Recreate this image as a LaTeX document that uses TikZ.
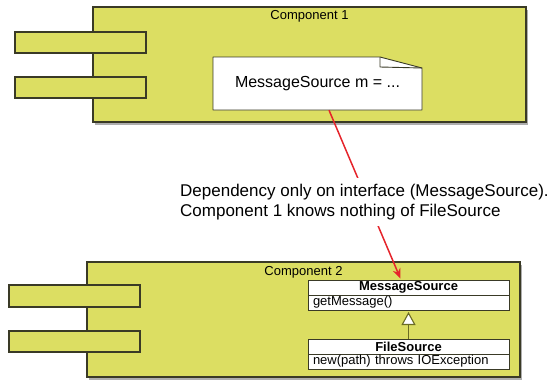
\documentclass[tikz,border=0pt]{standalone}
\usepackage{fontspec}
\setmainfont{Liberation Sans}
\usetikzlibrary{shadows,arrows.meta,calc}
\definecolor{compfill}{HTML}{DCDE62}
\definecolor{compline}{HTML}{3A3A26}
\definecolor{arrowred}{HTML}{E5242B}
\definecolor{genline}{HTML}{6B6C24}
\begin{document}
\begin{tikzpicture}[x=1pt,y=-1pt,
  comp/.style={draw=compline, fill=compfill, line width=1.2pt, rectangle, inner sep=0pt, outer sep=0pt,
    anchor=north west, minimum width=433pt, minimum height=115pt,
    drop shadow={shadow xshift=1.5pt, shadow yshift=-2.5pt, opacity=0.45, fill=black!70}},
  port/.style={draw=compline, fill=compfill, line width=1.1pt, rectangle, inner sep=0pt, outer sep=0pt,
    anchor=north west, minimum width=131pt, minimum height=21pt},
  complabel/.style={font=\fontsize{13}{15}\selectfont, anchor=base, inner sep=0pt},
  notebox/.style={draw=compline, fill=white, line width=0.9pt, line join=round},
  notetext/.style={font=\fontsize{16}{19}\selectfont, inner sep=0pt, minimum width=209pt, minimum height=53pt},
  clshead/.style={draw=compline, fill=white, line width=0.8pt, rectangle, anchor=north west, inner sep=0pt, outer sep=0pt,
    minimum width=201pt, minimum height=15pt, font=\fontsize{13}{15}\selectfont\bfseries},
  clsbody/.style={draw=compline, fill=white, line width=0.8pt, rectangle, anchor=north west, inner xsep=5pt, inner ysep=0pt, outer sep=0pt,
    text width=191pt, align=left, minimum height=15pt, font=\fontsize{13}{15}\selectfont},
  dep/.style={draw=arrowred, line width=1.5pt, -{Stealth[length=10pt,width=8pt]}, shorten >=1.5pt},
  gen/.style={draw=genline, line width=1.1pt, -{Triangle[open,fill=white,length=13pt,width=14pt]}, shorten >=2pt},
  annot/.style={font=\fontsize{17}{20}\selectfont, align=left, fill=white, inner xsep=2pt, inner ysep=6pt, anchor=north west}
]
\useasboundingbox (0,0) rectangle (558,381);

% Component 1
\node[comp] (c1) at (93,7) {};
\node[port] (p1a) at (15,32) {};
\node[port] (p1b) at (15,77) {};
\node[complabel] (c1l) at (309.5,19) {Component 1};

% Note
\draw[notebox] (213,57) -- (380,57) -- (422,68) -- (422,110) -- (213,110) -- cycle;
\draw[notebox, fill=none] (380,57) -- (380,67) -- (422,68);
\node[notetext] (note) at (317.5,83.5) {MessageSource m = ...};

% Component 2
\node[comp] (c2) at (87,262) {};
\node[port, minimum height=22pt] (p2a) at (9,285) {};
\node[port] (p2b) at (9,331) {};
\node[complabel] (c2l) at (303.5,275) {Component 2};

% Classes
\node[clshead] (ms) at (308,280) {MessageSource};
\node[clsbody] (msb) at (ms.south west) {getMessage()};
\node[clshead] (fs) at (308,339) {FileSource};
\node[clsbody] (fsb) at (fs.south west) {new(path) throws IOException};

\draw[gen] (fs.north) -- (msb.south);

% Dependency
\draw[dep] ($(note.south west)!0.555!(note.south east)$) -- ($(ms.north west)!0.463!(ms.north east)$);
\node[annot] (ann) at (178,178) {Dependency only on interface (MessageSource).\\Component 1 knows nothing of FileSource};
\end{tikzpicture}
\end{document}
